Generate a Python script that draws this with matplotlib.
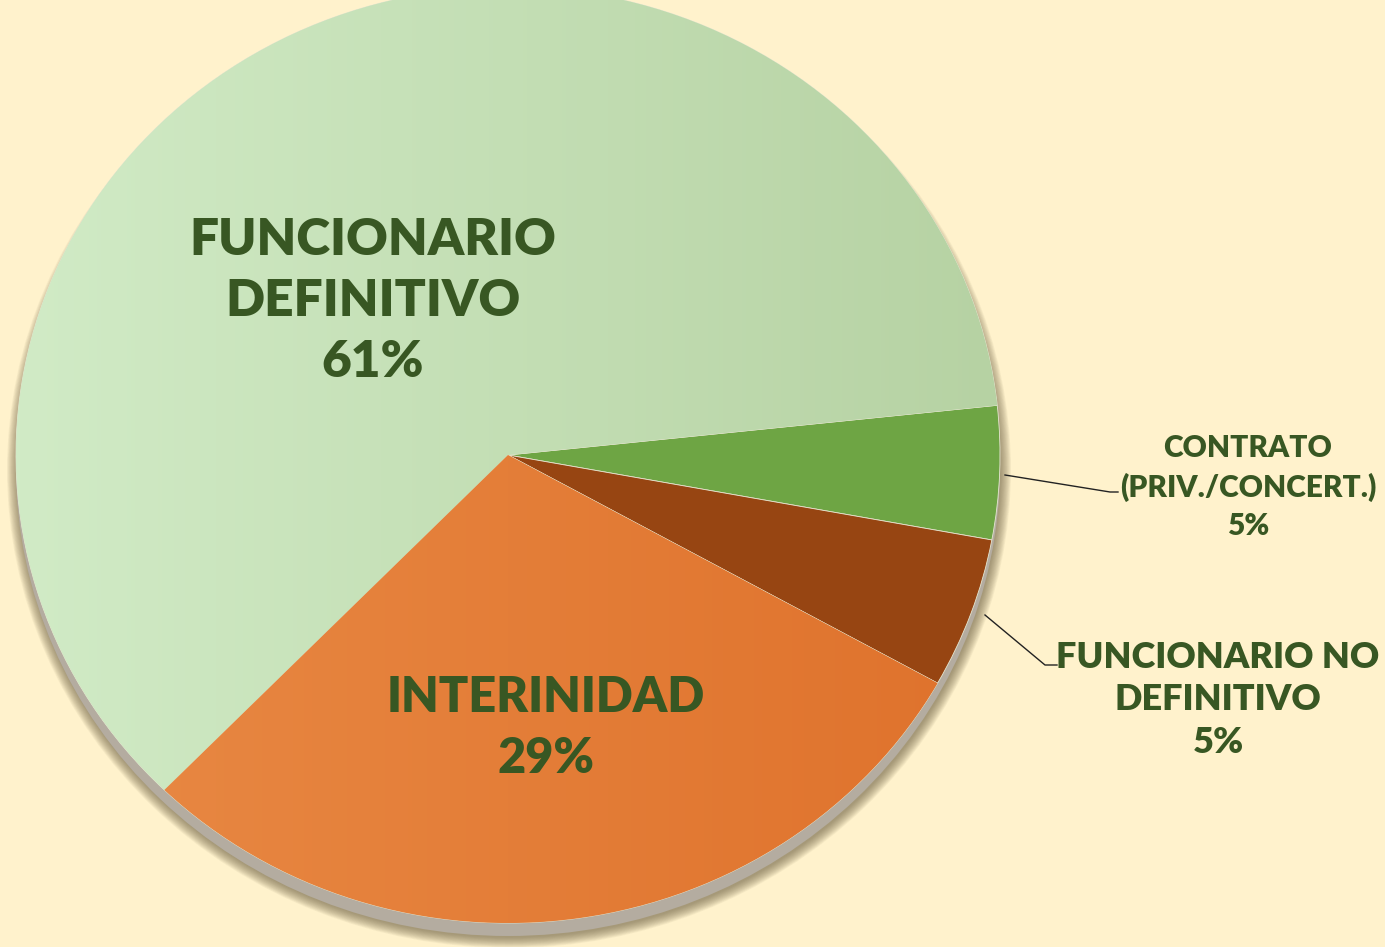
import numpy as np
import matplotlib.pyplot as plt
from matplotlib.patches import Ellipse
from matplotlib.colors import to_rgb

# data
categories = ['CONTRATO\n(PRIV./CONCERT.)', 'FUNCIONARIO NO\nDEFINITIVO',
              'INTERINIDAD', 'FUNCIONARIO\nDEFINITIVO']
values = [4.6, 5.2, 29.2, 61.0]
pct_labels = ['5%', '5%', '29%', '61%']
colors = ['#6ea544', '#974512', '#e47f37', '#c3deb4']

bg = '#fff2cc'
txt = '#385723'
plt.rcParams['font.family'] = ['Lato', 'DejaVu Sans']

W, H = 1385, 947
cx, cy = 508, 455          # pie centre, pixels from top-left
rx, ry = 492, 468          # pie is drawn slightly tilted (ellipse)


def px(x, y):
    # pixel position -> data coords (pie radius 1)
    return (x - cx) / rx, (cy - y) / ry


fig = plt.figure(figsize=(13.85, 9.47), dpi=100, facecolor=bg)
ax = fig.add_axes([0, 0, 1, 1])
ax.set_facecolor(bg)

# soft shadow + grey rim under the pie
for k in range(14):
    ax.add_patch(Ellipse(px(cx + 1, cy + 15), 2 + (10 - k * 0.8) / rx * 2,
                         2 + (10 - k * 0.8) / ry * 2, color='#6b6040',
                         alpha=0.06, lw=0, zorder=1))
ax.add_patch(Ellipse(px(cx, cy + 13), 2, 2, color='#b4aca0', lw=0, zorder=2))

wedges, _ = ax.pie(values, colors=colors, startangle=6.1, counterclock=False,
                   center=(0, 0), radius=1, frame=True,
                   wedgeprops=dict(linewidth=0.6, edgecolor='#e6e6d0'))
for w in wedges:
    w.set_zorder(3)
x0, y1 = px(0, 0)
x1, y0 = px(W, H)
ax.set_xlim(x0, x1)
ax.set_ylim(y0, y1)
ax.set_aspect('auto')
ax.axis('off')

# horizontal gradients on the two big slices
grad = np.linspace(0, 1, 256).reshape(1, -1)
for w, c0, c1 in [(wedges[3], '#d1ebc6', '#b6d2a3'), (wedges[2], '#e98a45', '#df722c')]:
    a = np.array(to_rgb(c0))
    b = np.array(to_rgb(c1))
    img = a[None, None, :] * (1 - grad[..., None]) + b[None, None, :] * grad[..., None]
    im = ax.imshow(img, extent=(-1, 1, -1, 1), aspect='auto', zorder=3.5, origin='lower')
    im.set_clip_path(w)
ax.set_xlim(x0, x1)
ax.set_ylim(y0, y1)

# labels inside
ax.text(*px(373, 301), categories[3] + '\n' + pct_labels[3], ha='center', va='center',
        fontsize=37, fontweight='heavy', color=txt, linespacing=1.4, zorder=5)
ax.text(*px(546, 728), categories[2] + '\n' + pct_labels[2], ha='center', va='center',
        fontsize=35, fontweight='heavy', color=txt, linespacing=1.45, zorder=5)

# labels outside with leader lines
ax.text(*px(1248, 487), categories[0] + '\n' + pct_labels[0], ha='center', va='center',
        fontsize=21.5, fontweight='heavy', color=txt, linespacing=1.45, zorder=5)
lx, ly = zip(px(1005, 475), px(1110, 492), px(1118, 492))
ax.plot(lx, ly, color='#222222', lw=1, zorder=5)
ax.text(*px(1218, 700), categories[1] + '\n' + pct_labels[1], ha='center', va='center',
        fontsize=26, fontweight='heavy', color=txt, linespacing=1.35, zorder=5)
lx, ly = zip(px(985, 615), px(1045, 665), px(1057, 665))
ax.plot(lx, ly, color='#222222', lw=1, zorder=5)

fig.savefig('out.png', dpi=100, facecolor=bg)
